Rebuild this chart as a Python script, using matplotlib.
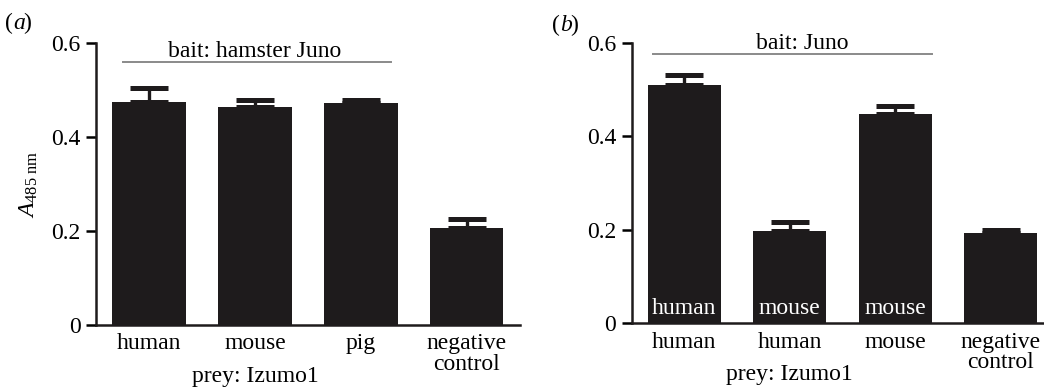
import numpy as np
import matplotlib
matplotlib.use("Agg")
import matplotlib.pyplot as plt

plt.rcParams['font.family'] = ['Liberation Serif', 'DejaVu Serif']
plt.rcParams['mathtext.fontset'] = 'custom'
plt.rcParams['mathtext.rm'] = 'Liberation Serif'
plt.rcParams['mathtext.it'] = 'Liberation Serif:italic'

# panel a : bait hamster Juno
labels_a = ["human", "mouse", "pig", "negative\ncontrol"]
values_a = [0.475, 0.463, 0.472, 0.207]
errors_a = [0.029, 0.016, 0.006, 0.019]

# panel b : bait Juno
labels_b = ["human", "human", "mouse", "negative\ncontrol"]
inner_b = ["human", "mouse", "mouse", ""]
values_b = [0.510, 0.198, 0.448, 0.194]
errors_b = [0.021, 0.018, 0.017, 0.005]

bar_col = "#1e1b1c"
fs = 17

fig = plt.figure(figsize=(10.44, 3.87), dpi=100)
ax_a = fig.add_axes([0.092, 0.160, 0.406, 0.729])
ax_b = fig.add_axes([0.605, 0.1646, 0.404, 0.725])


def draw_panel(ax, labels, values, errors, bait_text, bait_y, bait_x, text_x, text_y):
    x = np.arange(len(values))
    ax.bar(x, values, width=0.69, color=bar_col, zorder=2)
    ax.errorbar(x, values, yerr=[np.zeros(len(errors)), errors], fmt='none',
                ecolor=bar_col, elinewidth=2.4, capsize=13.5, capthick=3.6, zorder=1)
    ax.set_xlim(-0.5, 3.5)
    ax.set_ylim(0, 0.6)
    ax.set_yticks([0, 0.2, 0.4, 0.6])
    ax.set_yticklabels(["0", "0.2", "0.4", "0.6"], fontsize=fs)
    ax.set_xticks(x)
    ax.set_xticklabels(labels, fontsize=fs, linespacing=0.95)
    ax.tick_params(axis='x', length=0, pad=6)
    ax.tick_params(axis='y', length=7, width=1.8, pad=4)
    for s in ['top', 'right']:
        ax.spines[s].set_visible(False)
    for s in ['left', 'bottom']:
        ax.spines[s].set_linewidth(1.8)
        ax.spines[s].set_color(bar_col)
    ax.plot(bait_x, [bait_y, bait_y], color="#8a8a8a", lw=1.4, clip_on=False)
    ax.text(text_x, text_y, bait_text, ha='center', va='bottom', fontsize=fs, clip_on=False)
    ax.text(1.0, -0.11, "prey: Izumo1", ha='center', va='center', fontsize=fs,
            transform=ax.transData, clip_on=False)


draw_panel(ax_a, labels_a, values_a, errors_a, "bait: hamster Juno", 0.56, [-0.25, 2.28], 0.995, 0.5595)
draw_panel(ax_b, labels_b, values_b, errors_b, "bait: Juno", 0.575, [-0.3, 2.35], 1.115, 0.5766)

for i, t in enumerate(inner_b):
    if t:
        ax_b.text(i, 0.032, t, color='white', ha='center', va='center', fontsize=fs)

ax_a.set_ylabel(r"$A_{\rm 485\ nm}$", fontsize=fs, labelpad=8)
fig.text(0.005, 0.94, "(", fontsize=fs, ha='left', va='center')
fig.text(0.0125, 0.94, "a", fontsize=fs, style='italic', ha='left', va='center')
fig.text(0.0225, 0.94, ")", fontsize=fs, ha='left', va='center')
fig.text(0.529, 0.935, "(", fontsize=fs, ha='left', va='center')
fig.text(0.5365, 0.935, "b", fontsize=fs, style='italic', ha='left', va='center')
fig.text(0.5465, 0.935, ")", fontsize=fs, ha='left', va='center')

fig.savefig("out.png", dpi=100)
